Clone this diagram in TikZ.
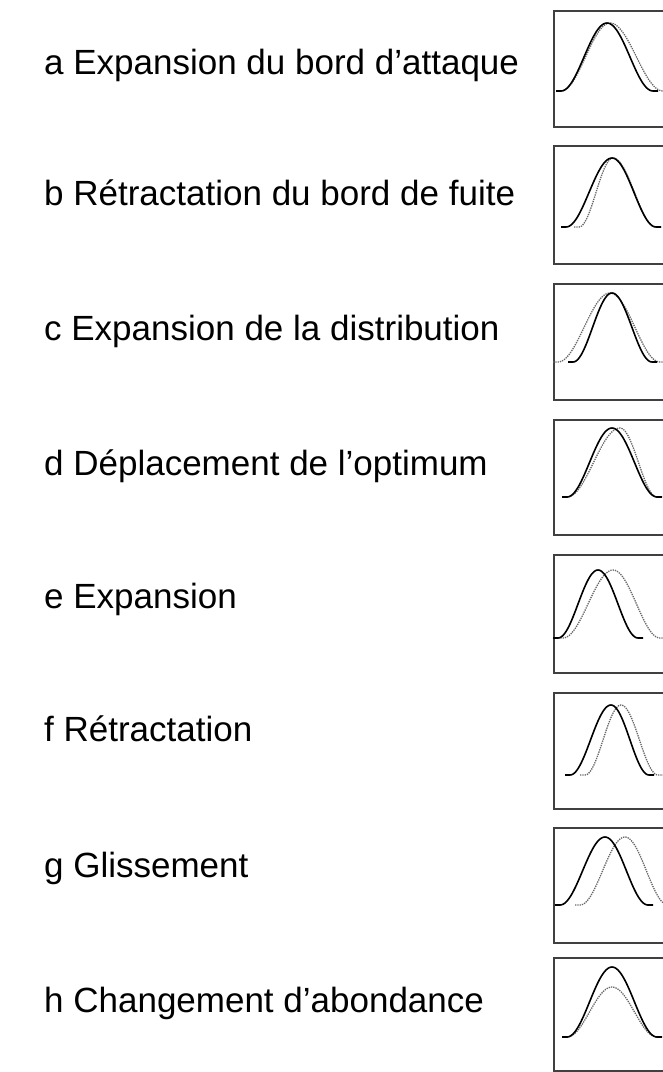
\documentclass[tikz,border=0pt]{standalone}
\usepackage{fontspec}
\setmainfont{Liberation Sans}
\usepackage{tikz}

\begin{document}
\begin{tikzpicture}[x=1pt, y=-1pt,
	label/.style={anchor=base west, inner sep=0pt, font=\fontsize{35}{40}\selectfont},
	frame/.style={draw=black!75, line width=1.6pt},
	solidcurve/.style={black, line width=1.6pt, line join=round},
	dottedcurve/.style={black!60, line width=1.3pt, densely dotted}]
	\useasboundingbox (0,0) rectangle (662,1072);
	% labels
	\node[label] (la) at (44,74) {a Expansion du bord d’attaque};
	\node[label] (lb) at (44,205) {b Rétractation du bord de fuite};
	\node[label] (lc) at (44,340) {c Expansion de la distribution};
	\node[label] (ld) at (44,475) {d Déplacement de l’optimum};
	\node[label] (le) at (44,608) {e Expansion};
	\node[label] (lf) at (44,741) {f Rétractation};
	\node[label] (lg) at (44,877) {g Glissement};
	\node[label] (lh) at (44,1012) {h Changement d’abondance};
	% frames
	\foreach \t/\b in {11/127, 146/264, 284/400, 420/535, 555/673, 693/809, 828/943, 958/1071}
		{\draw[frame] (554,\t) rectangle (672,\b);}
	% bells: centre / left width / right width / peak / base
	\foreach \c/\wl/\wr/\p/\s in {610/49/53/23/91, 613/34/43/158/227, 610/52/50/293/362,
		620/53/37/428/497, 613/50/47/570/638, 621/36/37/705/775, 625/45/43/837/905, 612/45/45/987/1037}
		{\draw[dottedcurve] (\c-\wl-5,\s) -- plot[domain=-1:0, samples=30] ({\c+\wl*\x}, {\s-(\s-\p)*(1+cos(180*\x))/2})
			-- plot[domain=0:1, samples=30] ({\c+\wr*\x}, {\s-(\s-\p)*(1+cos(180*\x))/2}) -- (\c+\wr+5,\s);}
	\foreach \c/\wl/\wr/\p/\s in {607/46/46/23/91, 612/46/44/158/227, 612/39/40/293/362,
		612/45/45/428/497, 598/40/40/570/638, 611/41/38/705/775, 605/45/43/837/905, 612/45/45/967/1037}
		{\draw[solidcurve] (\c-\wl-5,\s) -- plot[domain=-1:0, samples=30] ({\c+\wl*\x}, {\s-(\s-\p)*(1+cos(180*\x))/2})
			-- plot[domain=0:1, samples=30] ({\c+\wr*\x}, {\s-(\s-\p)*(1+cos(180*\x))/2}) -- (\c+\wr+5,\s);}
\end{tikzpicture}
\end{document}
